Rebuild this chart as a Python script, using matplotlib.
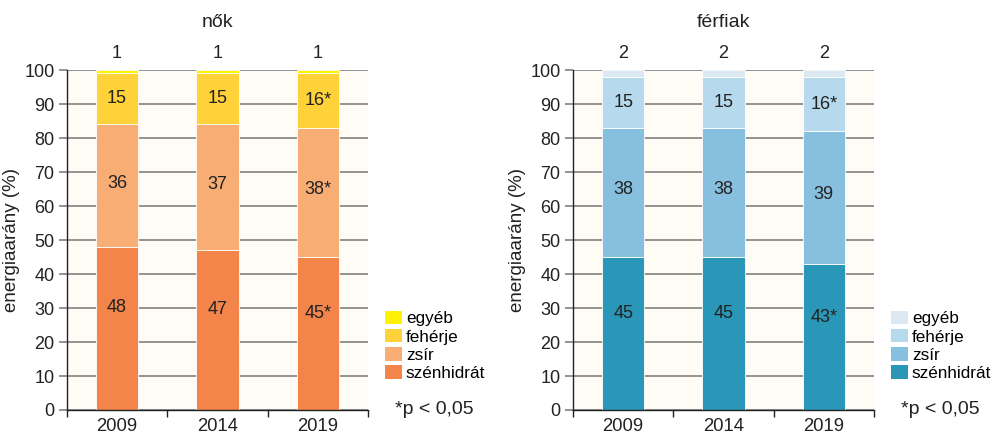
import matplotlib
matplotlib.use("Agg")
import matplotlib.pyplot as plt
from matplotlib.patches import Patch

plt.rcParams['font.family'] = ['Liberation Sans', 'DejaVu Sans']

years = ["2009", "2014", "2019"]
components = ["szénhidrát", "zsír", "fehérje", "egyéb"]

# energy share by macronutrient (%), bottom to top
women = {
    "szénhidrát": [48, 47, 45],
    "zsír": [36, 37, 38],
    "fehérje": [15, 15, 16],
    "egyéb": [1, 1, 1],
}
men = {
    "szénhidrát": [45, 45, 43],
    "zsír": [38, 38, 39],
    "fehérje": [15, 15, 16],
    "egyéb": [2, 2, 2],
}
# significance markers per segment
women_sig = {
    "szénhidrát": ["", "", "*"],
    "zsír": ["", "", "*"],
    "fehérje": ["", "", "*"],
}
men_sig = {
    "szénhidrát": ["", "", "*"],
    "zsír": ["", "", ""],
    "fehérje": ["", "", "*"],
}

women_colors = {"szénhidrát": "#f4854a", "zsír": "#f8ad74",
                "fehérje": "#ffd23a", "egyéb": "#fff200"}
men_colors = {"szénhidrát": "#2b97b8", "zsír": "#86c0de",
              "fehérje": "#b6d9ed", "egyéb": "#dde9f2"}

fig = plt.figure(figsize=(9.92, 4.34), dpi=100)
ax_w = fig.add_axes([0.0675, 0.0553, 0.3034, 0.7834])
ax_m = fig.add_axes([0.5776, 0.0553, 0.3034, 0.7834])

label_frac = {"szénhidrát": 0.63, "zsír": 0.52, "fehérje": 0.5}


def draw(ax, data, sig, colors, title):
    ax.set_facecolor("#fffcf6")
    x = list(range(len(years)))
    bottom = [0] * len(years)
    for comp in components:
        vals = data[comp]
        ax.bar(x, vals, width=0.42, bottom=bottom, color=colors[comp],
               edgecolor="#ffffff", linewidth=0.6, zorder=3)
        if comp in sig:
            for i, v in enumerate(vals):
                ax.text(x[i], bottom[i] + v * label_frac[comp],
                        f"{v}{sig[comp][i]}", ha="center", va="center",
                        fontsize=13, color="#222222", zorder=4)
        else:
            for i, v in enumerate(vals):
                ax.annotate(f"{v}", (x[i], 100), xytext=(0, 6),
                            textcoords="offset points", ha="center",
                            va="bottom", fontsize=13, color="#222222",
                            annotation_clip=False)
        bottom = [b + v for b, v in zip(bottom, vals)]

    ax.set_xlim(-0.5, 2.5)
    ax.set_ylim(0, 100)
    ax.set_yticks(range(0, 101, 10))
    ax.set_xticks(x)
    ax.set_xticklabels(years)
    ax.set_xticks([-0.5, 0.5, 1.5, 2.5], minor=True)
    ax.tick_params(axis="x", which="major", length=0, labelsize=13.3,
                   pad=6, colors="#222222")
    ax.tick_params(axis="x", which="minor", length=5, width=1,
                   color="#222222", direction="out")
    ax.tick_params(axis="y", length=6, width=1.3, color="#8a8a8a",
                   labelsize=13, labelcolor="#222222", pad=3)
    ax.grid(axis="y", color="#8a8a8a", linewidth=1.3, zorder=1)
    ax.set_axisbelow(True)
    for s in ["top", "right"]:
        ax.spines[s].set_visible(False)
    for s in ["left", "bottom"]:
        ax.spines[s].set_color("#222222")
        ax.spines[s].set_linewidth(1.0)
        ax.spines[s].set_zorder(5)
    ax.set_ylabel("energiaarány (%)", fontsize=13.5, color="#222222",
                  labelpad=3)
    ax.set_title(title, fontsize=14, color="#222222", pad=31)

    handles = [Patch(facecolor=colors[c], edgecolor="none", label=c)
               for c in reversed(components)]
    ax.legend(handles=handles, loc="lower left",
              bbox_to_anchor=(1.058, 0.085), frameon=False, fontsize=12.3,
              handlelength=0.95, handleheight=0.85, handletextpad=0.25,
              labelspacing=0.15, borderaxespad=0, borderpad=0)
    ax.text(1.09, 0.0, "*p < 0,05", transform=ax.transAxes, fontsize=14,
            ha="left", va="center", color="#222222")


draw(ax_w, women, women_sig, women_colors, "nők")
draw(ax_m, men, men_sig, men_colors, "férfiak")

fig.savefig("out.png", dpi=100)
